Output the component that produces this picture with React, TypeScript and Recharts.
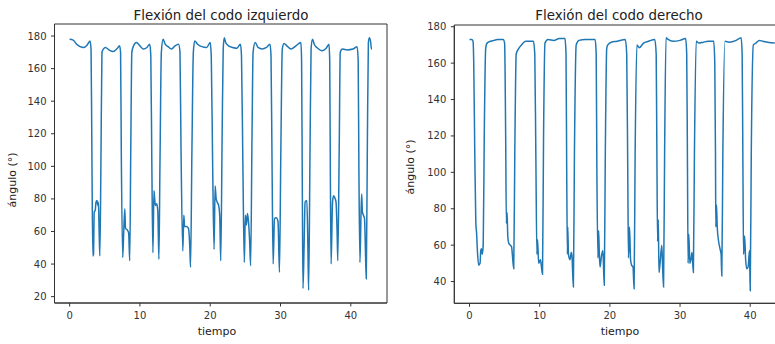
import { LineChart, Line, XAxis, YAxis, ReferenceArea } from "recharts";

// Left elbow flexion: time (s) and angle (deg)
const leftTime = [
  0.0, 0.5, 1.0, 1.5, 2.0, 2.5, 2.9, 3.05, 3.15, 3.3, 3.4, 3.5, 3.65, 3.75, 3.9, 4.0, 4.1, 4.2, 4.3, 4.45,
  4.6, 4.8, 5.1, 5.6, 6.2, 6.8, 7.1, 7.25, 7.35, 7.55, 7.7, 7.85, 7.95, 8.2, 8.4, 8.55, 8.7, 8.85,
  9.1, 9.5, 10.0, 10.5, 11.0, 11.4, 11.55, 11.7, 11.85, 12.0, 12.1, 12.2, 12.4, 12.55, 12.7, 12.85,
  13.05, 13.3, 13.6, 14.0, 14.5, 15.0, 15.5, 15.7, 15.85, 16.1, 16.25, 16.35, 16.6, 16.9, 17.1, 17.2,
  17.4, 17.6, 17.8, 18.2, 18.8, 19.5, 20.0, 20.15, 20.35, 20.55, 20.7, 20.85, 21.0, 21.2, 21.35, 21.5,
  21.7, 21.85, 22.0, 22.2, 22.6, 23.2, 23.8, 24.3, 24.45, 24.65, 24.85, 25.0, 25.15, 25.3, 25.45, 25.6,
  25.75, 25.95, 26.1, 26.4, 26.8, 27.4, 28.0, 28.5, 28.65, 28.8, 28.95, 29.15, 29.4, 29.65, 29.85,
  30.05, 30.25, 30.5, 30.9, 31.5, 32.2, 32.9, 33.0, 33.1, 33.2, 33.35, 33.5, 33.75, 33.9, 34.0, 34.2,
  34.35, 34.55, 34.8, 35.3, 35.9, 36.5, 36.9, 37.0, 37.1, 37.2, 37.4, 37.55, 37.7, 37.9, 38.05, 38.15,
  38.35, 38.5, 38.8, 39.5, 40.3, 40.9, 41.05, 41.15, 41.3, 41.45, 41.55, 41.65, 41.8, 41.95, 42.1, 42.2,
  42.35, 42.5, 42.65, 42.8, 42.95, 43.0,
];
const leftAngle = [
  178, 177.5, 175, 173.5, 173, 174.5, 177, 172, 120, 45, 46, 72, 73, 78, 79, 76, 78, 60, 45, 100,
  170, 172, 173, 171.5, 170.5, 172.5, 174, 170, 110, 44, 60, 74, 62, 61, 59, 42, 110, 170,
  174, 176, 174, 172, 173, 175, 168, 100, 47, 85, 80, 76, 77, 72, 43, 100,
  170, 178, 175, 173.5, 172, 174, 175, 170, 110, 48, 70, 63, 63, 62, 50, 38,
  110, 170, 177, 175, 173.5, 173, 176, 168, 100, 49, 88, 80, 78, 76, 70, 42,
  120, 172, 179, 176, 174, 173, 172.5, 175, 168, 100, 41, 70, 64, 71, 66, 55,
  39, 120, 170, 176, 173, 172, 173, 175, 168, 100, 40, 68, 68.5, 66, 35,
  110, 172, 175.5, 174, 172, 174, 176, 165, 90, 25, 50, 78, 79, 50, 24, 110,
  172, 178, 175, 172.5, 171, 172.5, 175, 165, 90, 40, 78, 82, 81, 78, 60, 42,
  110, 170, 172, 171.5, 172, 173.5, 165, 100, 41, 70, 83, 72, 70, 68, 45, 31,
  110, 176, 179, 177, 172, 172,
];

// Right elbow flexion: time (s) and angle (deg)
const rightTime = [
  0.0, 0.3, 0.5, 0.6, 0.75, 0.9, 1.0, 1.15, 1.3, 1.5, 1.6, 1.7, 1.8, 1.95, 2.1, 2.3, 2.5, 3.0, 3.5,
  4.0, 4.8, 5.0, 5.15, 5.25, 5.35, 5.45, 5.6, 5.8, 6.0, 6.1, 6.3, 6.45, 6.65, 7.0, 7.4, 8.0, 9.1,
  9.3, 9.45, 9.6, 9.7, 9.85, 10.1, 10.25, 10.4, 10.55, 10.75, 11.2, 12.0, 12.8, 13.6, 13.75, 13.85,
  13.95, 14.0, 14.1, 14.3, 14.5, 14.6, 14.8, 14.95, 15.2, 15.6, 16.5, 17.2, 17.9, 18.05, 18.15, 18.3,
  18.4, 18.5, 18.6, 18.8, 19.0, 19.2, 19.35, 19.55, 19.7, 20.2, 21.0, 22.2, 22.4, 22.55, 22.65, 22.8,
  22.95, 23.1, 23.3, 23.45, 23.6, 23.85, 24.2, 24.8, 25.5, 26.4, 26.6, 26.7, 26.8, 26.9, 27.0, 27.15,
  27.4, 27.5, 27.65, 27.8, 28.0, 28.3, 29.0, 30.0, 30.8, 30.95, 31.05, 31.15, 31.25, 31.4, 31.55,
  31.7, 31.9, 32.05, 32.3, 32.7, 33.3, 34.0, 34.8, 34.95, 35.05, 35.1, 35.2, 35.3, 35.5, 35.7, 35.85,
  35.95, 36.1, 36.4, 37.0, 38.0, 38.7, 38.85, 38.95, 39.05, 39.2, 39.35, 39.5, 39.7, 39.9, 40.0,
  40.15, 40.45, 40.8, 41.3, 41.8, 42.5, 43.5,
];
const rightAngle = [
  173, 173, 172, 160, 110, 72, 67, 55, 49, 50, 57, 58, 55, 60, 120, 168, 171, 172, 172.5,
  173, 173, 171, 120, 72, 78, 65, 61, 60, 59, 55, 47, 110, 165, 168, 170, 172, 172,
  165, 110, 55, 63, 50, 52, 48, 44, 120, 171, 173, 172.5, 173.5, 173.5, 165, 100,
  55, 70, 55, 52, 56, 54, 37, 110, 170, 172.5, 173, 173, 173, 165, 100, 53,
  68, 55, 48, 54, 57, 38, 110, 168, 170, 171.5, 172, 173, 165, 100, 53, 70,
  52, 49, 48, 36, 110, 170, 168.5, 171, 172, 173, 165, 110, 62, 74, 45, 50,
  60, 50, 37, 110, 174, 173, 172, 172.5, 173.5, 165, 110, 50, 66, 50, 52,
  56, 45, 110, 172, 171, 171.5, 172, 172, 160, 110, 70, 82, 70, 62, 58, 55,
  43, 110, 172, 171.5, 172.5, 174, 165, 110, 55, 65, 52, 47, 48, 57, 35,
  110, 170, 171, 172.5, 172, 171.5, 171,
];

const timeTicks = [0, 10, 20, 30, 40];
const leftAngleTicks = [20, 40, 60, 80, 100, 120, 140, 160, 180];
const rightAngleTicks = [40, 60, 80, 100, 120, 140, 160, 180];

const FONT = "'DejaVu Sans', sans-serif";
const INK = "#333";
const BLUE = "#1f77b4";

type PanelProps = {
  time: number[];
  angle: number[];
  xDomain: [number, number];
  yDomain: [number, number];
  yTicks: number[];
  left: number;
  width: number;
  top: number;
  axisWidth: number;
  axisHeight: number;
  right: number;
};

function Panel(p: PanelProps) {
  const data = p.time.map((t, i) => ({ t, angle: p.angle[i] }));
  const tickStyle = { fill: INK, fontSize: 10, fontFamily: FONT };
  return (
    <div style={{ position: "absolute", left: p.left, top: 0 }}>
      <LineChart
        width={p.width}
        height={344}
        data={data}
        margin={{ top: p.top, right: p.right, bottom: 0, left: 0 }}
      >
        <XAxis
          type="number"
          dataKey="t"
          domain={p.xDomain}
          ticks={timeTicks}
          allowDataOverflow
          height={p.axisHeight}
          tickSize={3.5}
          tickMargin={5}
          tick={tickStyle}
          axisLine={{ stroke: INK }}
          tickLine={{ stroke: INK }}
        />
        <YAxis
          type="number"
          domain={p.yDomain}
          ticks={p.yTicks}
          allowDataOverflow
          width={p.axisWidth}
          tickSize={3.5}
          tickMargin={4.5}
          tick={tickStyle}
          axisLine={{ stroke: INK }}
          tickLine={{ stroke: INK }}
        />
        {/* box around the plot area, like matplotlib spines */}
        <ReferenceArea
          x1={p.xDomain[0]}
          x2={p.xDomain[1]}
          y1={p.yDomain[0]}
          y2={p.yDomain[1]}
          fill="none"
          stroke={INK}
          strokeWidth={1}
          ifOverflow="visible"
        />
        <Line
          type="monotone"
          dataKey="angle"
          stroke={BLUE}
          strokeWidth={1.5}
          dot={false}
          isAnimationActive={false}
        />
      </LineChart>
    </div>
  );
}

const textBase: React.CSSProperties = {
  position: "absolute",
  fontFamily: FONT,
  color: "#222",
  whiteSpace: "nowrap",
  transform: "translate(-50%, -50%)",
};

export default function App() {
  return (
    <div
      style={{
        position: "fixed",
        left: 0,
        top: 0,
        width: 775,
        height: 344,
        overflow: "hidden",
        background: "#fff",
      }}
    >
      <Panel
        time={leftTime}
        angle={leftAngle}
        xDomain={[-2.15, 45.15]}
        yDomain={[16.1, 187.4]}
        yTicks={leftAngleTicks}
        left={0}
        width={395}
        top={24}
        axisWidth={54.5}
        axisHeight={41}
        right={8}
      />
      <Panel
        time={rightTime}
        angle={rightAngle}
        xDomain={[-2.17, 45.67]}
        yDomain={[28.05, 180.95]}
        yTicks={rightAngleTicks}
        left={385}
        width={410}
        top={25}
        axisWidth={69.3}
        axisHeight={40.7}
        right={5}
      />
      <div style={{ ...textBase, left: 221, top: 15, fontSize: 13.4 }}>Flexión del codo izquierdo</div>
      <div style={{ ...textBase, left: 619, top: 15, fontSize: 13.4 }}>Flexión del codo derecho</div>
      <div style={{ ...textBase, left: 217, top: 331, fontSize: 11 }}>tiempo</div>
      <div style={{ ...textBase, left: 620, top: 331, fontSize: 11 }}>tiempo</div>
      <div style={{ ...textBase, left: 12, top: 180, fontSize: 11, transform: "translate(-50%, -50%) rotate(-90deg)" }}>
        ángulo (°)
      </div>
      <div style={{ ...textBase, left: 410, top: 167, fontSize: 11, transform: "translate(-50%, -50%) rotate(-90deg)" }}>
        ángulo (°)
      </div>
    </div>
  );
}
